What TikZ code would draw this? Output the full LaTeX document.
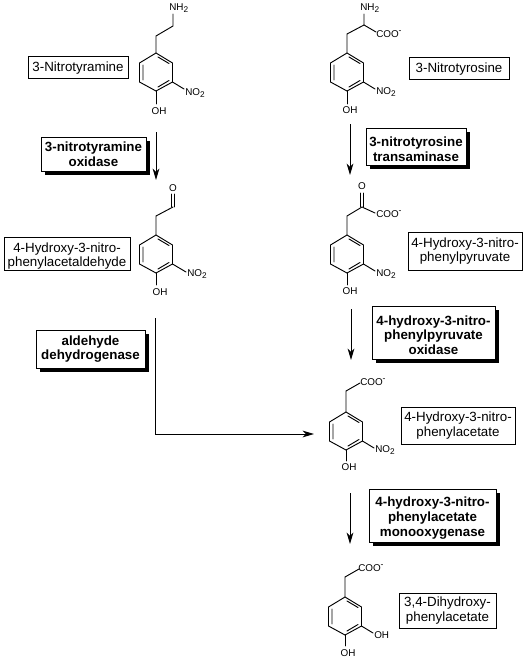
\documentclass[tikz,border=0pt]{standalone}
\usepackage{fontspec}
\setmainfont{Liberation Sans}
\usetikzlibrary{shadows,arrows.meta}
\newcommand{\lblfont}{\fontsize{10pt}{11pt}\selectfont}
\newcommand{\chemfont}{\fontsize{7.4pt}{8pt}\selectfont}
\newcommand{\mysub}[1]{\raisebox{-1.6pt}{\fontsize{6.2pt}{7pt}\selectfont #1}}
\newcommand{\mysup}[1]{\raisebox{3pt}{\fontsize{6.5pt}{7pt}\selectfont #1}}
\newcommand{\lowerstrut}{\rule{0pt}{11pt}}
\tikzset{
  x=0.75pt,y=-0.75pt,
  bond/.style={line width=0.7pt,line cap=round},
  rxn/.style={line width=0.75pt,-{Stealth[length=8.5pt,width=5pt,inset=2.5pt]}},
  namebox/.style={draw,fill=white,line width=0.75pt,align=center,inner sep=0pt,font=\lblfont},
  enzbox/.style={draw,fill=white,line width=0.75pt,align=center,inner sep=0pt,
    font=\lblfont\bfseries,drop shadow={shadow xshift=2.7pt,shadow yshift=-2.7pt,opacity=1,fill=black}},
  chemlabel/.style={inner sep=0pt,font=\chemfont}
}
% \boxat{name}{x1}{y1}{x2}{y2}{style}{text}
\newcommand{\boxat}[7]{%
  \pgfmathsetmacro{\cxx}{(#2+#4)/2}\pgfmathsetmacro{\cyy}{(#3+#5)/2}%
  \pgfmathsetmacro{\ww}{(#4-#2)*0.75}\pgfmathsetmacro{\hh}{(#5-#3)*0.75}%
  \node[#6,minimum width=\ww pt,minimum height=\hh pt] (#1) at (\cxx,\cyy) {#7};}
% ring with top vertex at (#1,#2)
\newcommand{\ringat}[2]{%
  \draw[bond,shift={(#1,#2)}]
    (0,0) -- (16.5,10) -- (16.5,29) -- (0,38) -- (-16.5,29) -- (-16.5,10) -- cycle
    (2,4) -- (13,10.5)
    (13,27.5) -- (2,34)
    (-13,12) -- (-13,27);}
\begin{document}
\begin{tikzpicture}
\useasboundingbox[fill=white] (0,0) rectangle (529,660);

% 3-Nitrotyramine
\ringat{156}{53}
\draw[bond] (156,53) -- (156,36) -- (173,26) -- (173,14);
\draw[bond] (172.5,82) -- (184,89);
\draw[bond] (156,91) -- (156,104);
\node[chemlabel,anchor=west] (m1a) at (169,8) {NH\mysub{2}};
\node[chemlabel,anchor=west] (m1b) at (185,93) {NO\mysub{2}};
\node[chemlabel] (m1c) at (159,111) {OH};

% aldehyde
\ringat{156}{235}
\draw[bond] (156,235) -- (156,216) -- (173,207);
\draw[bond] (171.5,207) -- (171.5,194) (174.5,207) -- (174.5,194);
\draw[bond] (172.5,264) -- (186,272);
\draw[bond] (156,273) -- (156,285);
\node[chemlabel] (m2o) at (173,188) {O};
\node[chemlabel,anchor=west] (m2b) at (187,274) {NO\mysub{2}};
\node[chemlabel] (m2c) at (160,292) {OH};

% tyrosine
\ringat{347}{53}
\draw[bond] (347,53) -- (347,34) -- (364,25) -- (364,14) (364,25) -- (376,32);
\draw[bond] (363.5,82) -- (375,89);
\draw[bond] (347,91) -- (347,104);
\node[chemlabel,anchor=west] (m3a) at (360,8) {NH\mysub{2}};
\node[chemlabel,anchor=west] (m3d) at (376,34) {COO\mysup{-}};
\node[chemlabel,anchor=west] (m3b) at (376,92) {NO\mysub{2}};
\node[chemlabel] (m3c) at (350,110) {OH};

% pyruvate
\ringat{347}{235}
\draw[bond] (347,235) -- (347,216) -- (362,207) -- (375,213);
\draw[bond] (360.5,207) -- (360.5,193) (363.5,207) -- (363.5,193);
\draw[bond] (363.5,264) -- (375,271);
\draw[bond] (347,273) -- (347,285);
\node[chemlabel] (m4o) at (362,186) {O};
\node[chemlabel,anchor=west] (m4d) at (376,214) {COO\mysup{-}};
\node[chemlabel,anchor=west] (m4b) at (376,274) {NO\mysub{2}};
\node[chemlabel] (m4c) at (350,291) {OH};

% nitrophenylacetate
\ringat{346}{412}
\draw[bond] (346,412) -- (346,391) -- (360,383);
\draw[bond] (362.5,441) -- (374,448);
\draw[bond] (346,450) -- (346,461);
\node[chemlabel,anchor=west] (m5d) at (360,382) {COO\mysup{-}};
\node[chemlabel,anchor=west] (m5b) at (375,450) {NO\mysub{2}};
\node[chemlabel] (m5c) at (349,467) {OH};

% dihydroxyphenylacetate
\ringat{345}{597}
\draw[bond] (345,597) -- (345,577) -- (359,569);
\draw[bond] (361.5,626) -- (373,633);
\draw[bond] (345,635) -- (345,646);
\node[chemlabel,anchor=west] (m6d) at (358,568) {COO\mysup{-}};
\node[chemlabel,anchor=west] (m6b) at (374,635) {OH};
\node[chemlabel] (m6c) at (348,653) {OH};

% name boxes
\boxat{n1}{28}{57}{128}{79}{namebox}{3-Nitrotyramine}
\boxat{n2}{4}{237}{130}{270}{namebox}{\lowerstrut 4-Hydroxy-3-nitro-\\phenylacetaldehyde}
\boxat{n3}{409}{58}{509}{80}{namebox}{3-Nitrotyrosine}
\boxat{n4}{408}{232}{522}{270}{namebox}{4-Hydroxy-3-nitro-\\phenylpyruvate}
\boxat{n5}{401}{407}{515}{444}{namebox}{4-Hydroxy-3-nitro-\\phenylacetate}
\boxat{n6}{399}{593}{496}{628}{namebox}{3,4-Dihydroxy-\\phenylacetate}

% enzyme boxes
\boxat{e1}{41}{137}{146}{171}{enzbox}{3-nitrotyramine\\oxidase}
\boxat{e2}{36}{330}{145}{368}{enzbox}{aldehyde\\dehydrogenase}
\boxat{e3}{366}{128}{466}{165}{enzbox}{\lowerstrut 3-nitrotyrosine\\transaminase}
\boxat{e4}{372}{306}{495}{359}{enzbox}{\lowerstrut 4-hydroxy-3-nitro-\\phenylpyruvate\\oxidase}
\boxat{e5}{369}{489}{496}{542}{enzbox}{\lowerstrut 4-hydroxy-3-nitro-\\phenylacetate\\monooxygenase}

% reaction arrows
\coordinate (a1s) at (156,132); \coordinate (a1e) at (156,180);
\coordinate (a2s) at (350,124); \coordinate (a2e) at (350,175);
\coordinate (a3s) at (351,309); \coordinate (a3e) at (351,360);
\coordinate (a4s) at (350,493); \coordinate (a4e) at (350,544);
\coordinate (a5s) at (155,318); \coordinate (a5m) at (155,434); \coordinate (a5e) at (314,434);
\draw[rxn] (a1s) -- (a1e);
\draw[rxn] (a2s) -- (a2e);
\draw[rxn] (a3s) -- (a3e);
\draw[rxn] (a4s) -- (a4e);
\draw[rxn] (a5s) -- (a5m) -- (a5e);
\end{tikzpicture}
\end{document}
